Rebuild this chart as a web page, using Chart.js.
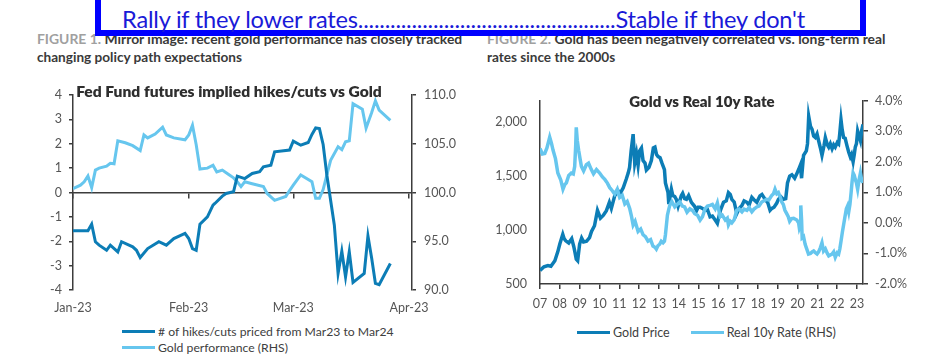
<!DOCTYPE html>
<html><head><meta charset="utf-8">
<script src="https://cdn.jsdelivr.net/npm/chart.js@4"></script>
<style>
body{margin:0;width:927px;height:355px;position:relative;overflow:hidden;background:#fff;font-family:Lato,sans-serif;}
#banner{position:absolute;left:95px;top:-12px;width:771px;height:48px;box-sizing:border-box;border:6px solid #0000ff;background:#fff;z-index:5}
#bannerText{position:absolute;left:21px;top:11px;font-family:Lato,sans-serif;font-size:23.6px;color:#1a1ad8;white-space:nowrap;letter-spacing:-0.2px}
.cap{position:absolute;font-weight:700;color:#3a3a3a;line-height:18px;white-space:nowrap}
.cap .fig{color:#a0a0a0}
.ttl{position:absolute;font-weight:800;color:#2e2e2e;white-space:nowrap;transform:translate(-50%,-50%)}
.leg{position:absolute;font-size:12.5px;color:#404040;white-space:nowrap;line-height:16px}
.sw{display:inline-block;width:33px;height:3px;vertical-align:middle;margin-right:3px;position:relative;top:-1px}
canvas{position:absolute}
</style>
</head><body>
<div class="cap" style="left:37px;top:30px;font-size:13.9px"><span class="fig">FIGURE 1.</span> Mirror image: recent gold performance has closely tracked<br><span style="font-size:13.6px">changing policy path expectations</span></div>
<div class="cap" style="left:487px;top:30px;font-size:13.9px"><span class="fig">FIGURE 2.</span> Gold has been negatively correlated vs. long-term real<br><span style="font-size:13.6px">rates since the 2000s</span></div>
<div id="banner"><div id="bannerText">Rally if they lower rates................................................Stable if they don't</div></div>
<canvas id="c1" width="470" height="244" style="left:0;top:70px"></canvas>
<canvas id="c2" width="457" height="234" style="left:470px;top:80px"></canvas>
<div class="ttl" style="left:229px;top:91px;font-size:15.6px">Fed Fund futures implied hikes/cuts vs Gold</div>
<div class="ttl" style="left:702px;top:101px;font-size:15px">Gold vs Real 10y Rate</div>
<div class="leg" style="left:122px;top:324px;font-size:12.2px"><span class="sw" style="background:#0c7db6"></span># of hikes/cuts priced from Mar23 to Mar24<br><span class="sw" style="background:#66c6ee"></span>Gold performance (RHS)</div>
<div class="leg" style="left:577px;top:325px"><span class="sw" style="background:#0c7db6"></span>Gold Price<span style="display:inline-block;width:21px"></span><span class="sw" style="background:#66c6ee"></span>Real 10y Rate (RHS)</div>
<script>
// ---------- Figure 1 data (day 0 = 1 Jan 2023) ----------
const monthTickDays = [0, 31, 59, 90];
const monthLabels = ['Jan-23', 'Feb-23', 'Mar-23', 'Apr-23'];
const hikeDays = [0,4,5,6,7,9,10,12,13,15,16,17,18,20,23,25,27,30,31,32,33,34,36,37.5,38,40,41,43,44,45,46,48,50,51,53,54,58,59,61,63,64,65,66,67,68,70,71,72,73,74,75,78,79,80,81,82,85];
const hikeValues = [-1.57,-1.57,-1.30,-2.02,-2.16,-2.37,-2.16,-2.44,-2.02,-2.16,-2.23,-2.37,-2.67,-2.30,-2.02,-2.16,-1.89,-1.68,-1.89,-2.30,-2.37,-1.30,-1.00,-0.52,-0.45,-0.15,-0.04,0.03,0.67,0.62,0.57,0.78,0.85,1.05,1.12,1.67,1.74,2.11,1.94,2.05,2.38,2.65,2.62,1.97,0.71,-1.34,-3.32,-2.41,-3.46,-2.43,-3.69,-3.32,-1.78,-2.70,-3.73,-3.78,-2.91];
const goldPerfDays = [0,2,3,4,5,6,7,9,10,11,12,14,16,18,19,20,22,24,25,27,30,31,32,33,34,36,37.5,38.5,40,41.5,43,44,45,46,48,51,52,54,57,58,59,61,64,65,66,67,68,69,71,72,73,74,75,77.5,78.5,80,81,82,85];
const goldPerfValues = [100.4,100.75,101.1,101.7,100.5,102.3,102.5,102.7,103.0,102.95,105.3,105.1,104.8,104.3,105.9,105.6,106.0,106.7,105.9,105.6,105.4,105.9,106.9,104.9,102.4,102.5,102.8,102.1,102.3,101.9,101.5,101.1,100.6,101.1,100.9,100.6,99.9,99.2,99.6,100.2,100.75,101.8,101.1,99.4,99.4,100.3,101.8,103.3,104.7,104.4,105.2,105.3,109.1,108.55,106.6,108.2,109.4,108.45,107.4];
const hikeTicks = [-4,-3,-2,-1,0,1,2,3,4];
const goldPerfTicks = [90,95,100,105,110];

// ---------- Figure 2 data ----------
const yearTicks = [2007,2008,2009,2010,2011,2012,2013,2014,2015,2016,2017,2018,2019,2020,2021,2022,2023];
const goldPriceTicks = [500,1000,1500,2000];
const realRateTicks = [-2,-1,0,1,2,3,4];
const goldYears = [2007.0,2007.2,2007.4,2007.55,2007.75,2007.9,2008.0,2008.15,2008.22,2008.3,2008.45,2008.6,2008.7,2008.75,2008.83,2008.9,2009.0,2009.1,2009.2,2009.35,2009.5,2009.6,2009.75,2009.9,2010.05,2010.2,2010.35,2010.5,2010.6,2010.77,2010.95,2011.05,2011.2,2011.35,2011.45,2011.52,2011.6,2011.7,2011.78,2011.87,2011.95,2012.03,2012.12,2012.2,2012.3,2012.37,2012.5,2012.62,2012.72,2012.8,2012.88,2012.96,2013.06,2013.16,2013.28,2013.33,2013.46,2013.5,2013.63,2013.7,2013.8,2013.88,2013.97,2014.13,2014.2,2014.3,2014.39,2014.5,2014.64,2014.8,2014.9,2014.98,2015.08,2015.2,2015.33,2015.45,2015.58,2015.7,2015.84,2015.95,2016.1,2016.26,2016.4,2016.51,2016.6,2016.68,2016.8,2016.93,2017.05,2017.19,2017.3,2017.44,2017.55,2017.69,2017.8,2017.94,2018.1,2018.2,2018.36,2018.5,2018.61,2018.7,2018.81,2018.95,2019.03,2019.15,2019.29,2019.4,2019.49,2019.6,2019.71,2019.85,2019.97,2020.05,2020.14,2020.2,2020.3,2020.44,2020.5,2020.56,2020.65,2020.73,2020.81,2020.89,2020.98,2021.06,2021.15,2021.23,2021.33,2021.4,2021.5,2021.57,2021.65,2021.74,2021.82,2021.9,2022.0,2022.07,2022.12,2022.19,2022.25,2022.32,2022.4,2022.49,2022.58,2022.66,2022.72,2022.8,2022.86,2022.91,2022.97,2023.03,2023.1,2023.17,2023.23,2023.3];
const goldPrices = [626,660,671,665,716,800,870,960,920,900,880,920,850,806,730,716,870,926,890,896,930,986,1040,1182,1110,1137,1180,1256,1200,1317,1362,1340,1392,1470,1527,1580,1734,1888,1620,1707,1600,1734,1760,1644,1620,1555,1580,1644,1760,1768,1700,1680,1670,1617,1560,1437,1347,1240,1378,1320,1310,1284,1220,1317,1340,1290,1284,1320,1256,1220,1180,1212,1212,1200,1182,1190,1122,1130,1092,1062,1180,1257,1270,1347,1330,1284,1260,1152,1200,1227,1270,1257,1230,1302,1280,1257,1317,1330,1284,1250,1182,1200,1212,1250,1284,1310,1284,1290,1437,1500,1512,1480,1527,1560,1602,1480,1692,1734,1800,2053,1960,1933,1870,1857,1890,1827,1760,1692,1780,1857,1790,1768,1800,1753,1790,1768,1810,1797,1880,2023,1930,1857,1850,1782,1720,1677,1700,1632,1700,1768,1800,1917,1870,1827,1920,1978];
const rateYears = [2007.0,2007.12,2007.24,2007.35,2007.49,2007.58,2007.66,2007.78,2007.9,2008.05,2008.16,2008.25,2008.33,2008.45,2008.58,2008.68,2008.75,2008.8,2008.83,2008.88,2008.95,2009.02,2009.09,2009.2,2009.34,2009.45,2009.59,2009.7,2009.85,2010.01,2010.15,2010.27,2010.4,2010.52,2010.65,2010.77,2010.9,2011.02,2011.15,2011.28,2011.4,2011.53,2011.62,2011.7,2011.8,2011.95,2012.08,2012.2,2012.32,2012.45,2012.58,2012.7,2012.8,2012.87,2012.95,2013.04,2013.12,2013.21,2013.28,2013.33,2013.43,2013.5,2013.55,2013.65,2013.8,2013.92,2014.05,2014.18,2014.3,2014.42,2014.56,2014.7,2014.81,2014.95,2015.08,2015.2,2015.33,2015.45,2015.58,2015.7,2015.84,2015.95,2016.09,2016.2,2016.35,2016.45,2016.51,2016.6,2016.68,2016.8,2016.93,2017.05,2017.19,2017.3,2017.44,2017.55,2017.69,2017.8,2017.94,2018.05,2018.19,2018.3,2018.44,2018.55,2018.69,2018.78,2018.86,2018.95,2019.03,2019.12,2019.2,2019.28,2019.36,2019.45,2019.53,2019.6,2019.7,2019.8,2019.96,2020.05,2020.09,2020.14,2020.16,2020.2,2020.23,2020.3,2020.38,2020.46,2020.55,2020.65,2020.73,2020.81,2020.9,2020.98,2021.06,2021.15,2021.23,2021.31,2021.4,2021.5,2021.57,2021.65,2021.74,2021.82,2021.9,2022.0,2022.07,2022.13,2022.19,2022.26,2022.32,2022.39,2022.46,2022.52,2022.58,2022.64,2022.7,2022.75,2022.8,2022.86,2022.91,2022.97,2023.03,2023.1,2023.17,2023.23,2023.3];
const realRates = [2.43,2.25,2.27,2.45,2.80,2.60,2.37,2.10,1.63,1.40,1.10,1.25,1.31,1.55,1.63,1.60,1.84,2.5,3.12,2.70,2.37,2.10,1.84,1.70,1.90,1.95,1.74,1.60,1.74,1.63,1.50,1.42,1.30,1.15,1.05,0.94,1.10,0.83,0.90,0.62,0.70,0.46,0.20,-0.07,0.05,-0.28,-0.20,-0.39,-0.45,-0.60,-0.55,-0.76,-0.80,-0.86,-0.75,-0.70,-0.60,-0.65,-0.60,-0.39,0.25,0.45,0.57,0.70,0.52,0.60,0.68,0.55,0.52,0.35,0.46,0.40,0.30,0.25,0.09,0.20,0.46,0.55,0.57,0.60,0.46,0.65,0.20,0.25,0.09,0.15,-0.07,0.05,0.00,0.10,0.41,0.45,0.36,0.45,0.41,0.50,0.36,0.45,0.52,0.55,0.68,0.72,0.77,0.75,0.89,0.95,1.10,0.95,0.99,0.85,0.68,0.60,0.41,0.30,0.20,0.05,0.14,0.15,0.09,0.00,-0.18,-0.10,0.57,0.10,-0.49,-0.45,-0.70,-0.85,-1.02,-1.00,-0.95,-0.92,-0.98,-1.02,-0.95,-0.81,-0.65,-0.92,-0.85,-1.00,-1.08,-1.05,-1.02,-0.95,-1.13,-0.98,-1.02,-0.85,-0.60,-0.30,-0.07,0.20,0.46,0.55,0.36,0.60,0.99,1.35,1.63,1.55,1.42,1.30,1.10,1.40,1.63,1.40,1.31];

const DARK = '#0c7db6', LIGHT = '#66c6ee', AXIS = '#3c3c3c', TXT = '#555555';
const FONT = {family: 'Lato, sans-serif', size: 12.5};
const pts = (xs, ys) => xs.map((x, i) => ({x, y: ys[i]}));
const fixTicks = arr => (s) => { s.ticks = arr.map(v => ({value: v})); };

new Chart(document.getElementById('c1'), {
  type: 'line',
  data: {datasets: [
    {label: '# of hikes/cuts priced from Mar23 to Mar24', data: pts(hikeDays, hikeValues), borderColor: DARK, borderWidth: 3, pointRadius: 0, yAxisID: 'y', xAxisID: 'x', tension: 0},
    {label: 'Gold performance (RHS)', data: pts(goldPerfDays, goldPerfValues), borderColor: LIGHT, borderWidth: 3, pointRadius: 0, yAxisID: 'y2', xAxisID: 'x', tension: 0}
  ]},
  options: {
    responsive: false, animation: false, events: [],
    layout: {padding: {top: 25, left: 0, right: 0, bottom: 0}},
    plugins: {legend: {display: false}, tooltip: {enabled: false}},
    scales: {
      x: {type: 'linear', axis: 'x', position: 'bottom', min: 0, max: 90.8,
          afterBuildTicks: fixTicks(monthTickDays),
          grid: {display: false, drawTicks: false}, border: {display: false},
          ticks: {color: TXT, font: FONT, padding: 10, maxRotation: 0, autoSkip: false,
                  callback: v => monthLabels[monthTickDays.indexOf(v)]},
          afterFit: s => { s.height = 24; }},
      x0: {type: 'linear', axis: 'x', position: {y: 0}, min: 0, max: 90.8,
          afterBuildTicks: fixTicks(monthTickDays),
          ticks: {display: false},
          grid: {drawOnChartArea: false, drawTicks: true, tickLength: 5, color: AXIS, lineWidth: 1.5},
          border: {display: true, color: AXIS, width: 1.5}},
      y: {position: 'left', min: -4, max: 4, afterBuildTicks: fixTicks(hikeTicks),
          grid: {drawOnChartArea: false, drawTicks: true, tickLength: 4, color: AXIS, lineWidth: 1.5},
          border: {color: AXIS, width: 1.5},
          ticks: {color: TXT, font: FONT, padding: 7, callback: v => String(v)},
          afterFit: s => { s.width = 73; }},
      y2: {position: 'right', min: 90, max: 110, afterBuildTicks: fixTicks(goldPerfTicks),
          grid: {drawOnChartArea: false, drawTicks: true, tickLength: 4, color: AXIS, lineWidth: 1.5},
          border: {color: AXIS, width: 1.5},
          ticks: {color: TXT, font: FONT, padding: 8, callback: v => v.toFixed(1)},
          afterFit: s => { s.width = 58; }}
    }
  }
});

new Chart(document.getElementById('c2'), {
  type: 'line',
  data: {datasets: [
    {label: 'Gold Price', data: pts(goldYears, goldPrices), borderColor: DARK, borderWidth: 3.5, pointRadius: 0, yAxisID: 'y', tension: 0, order: 2},
    {label: 'Real 10y Rate (RHS)', data: pts(rateYears, realRates), borderColor: LIGHT, borderWidth: 3.5, pointRadius: 0, yAxisID: 'y2', tension: 0, order: 1}
  ]},
  options: {
    responsive: false, animation: false, events: [],
    layout: {padding: {top: 16, left: 0, right: 0, bottom: 0}},
    plugins: {legend: {display: false}, tooltip: {enabled: false}},
    scales: {
      x: {type: 'linear', position: 'bottom', min: 2007, max: 2023.3,
          afterBuildTicks: fixTicks(yearTicks),
          grid: {drawOnChartArea: false, drawTicks: true, tickLength: 5, color: AXIS, lineWidth: 1.5},
          border: {color: AXIS, width: 1.5},
          ticks: {color: TXT, font: FONT, padding: 7, maxRotation: 0, autoSkip: false,
                  callback: v => String(v).slice(2)},
          afterFit: s => { s.height = 30; }},
      y: {position: 'left', min: 500, max: 2200, afterBuildTicks: fixTicks(goldPriceTicks),
          grid: {drawOnChartArea: false, drawTicks: false},
          border: {color: AXIS, width: 1.5},
          ticks: {color: TXT, font: FONT, padding: 13, callback: v => v.toLocaleString('en-US')},
          afterFit: s => { s.width = 70; }},
      y2: {position: 'right', min: -2, max: 4, afterBuildTicks: fixTicks(realRateTicks),
          grid: {drawOnChartArea: false, drawTicks: true, tickLength: 5, color: AXIS, lineWidth: 1.5},
          border: {color: AXIS, width: 1.5},
          ticks: {color: TXT, font: FONT, padding: 7, callback: v => v.toFixed(1) + '%'},
          afterFit: s => { s.width = 64; }}
    }
  }
});
</script>
</body></html>
